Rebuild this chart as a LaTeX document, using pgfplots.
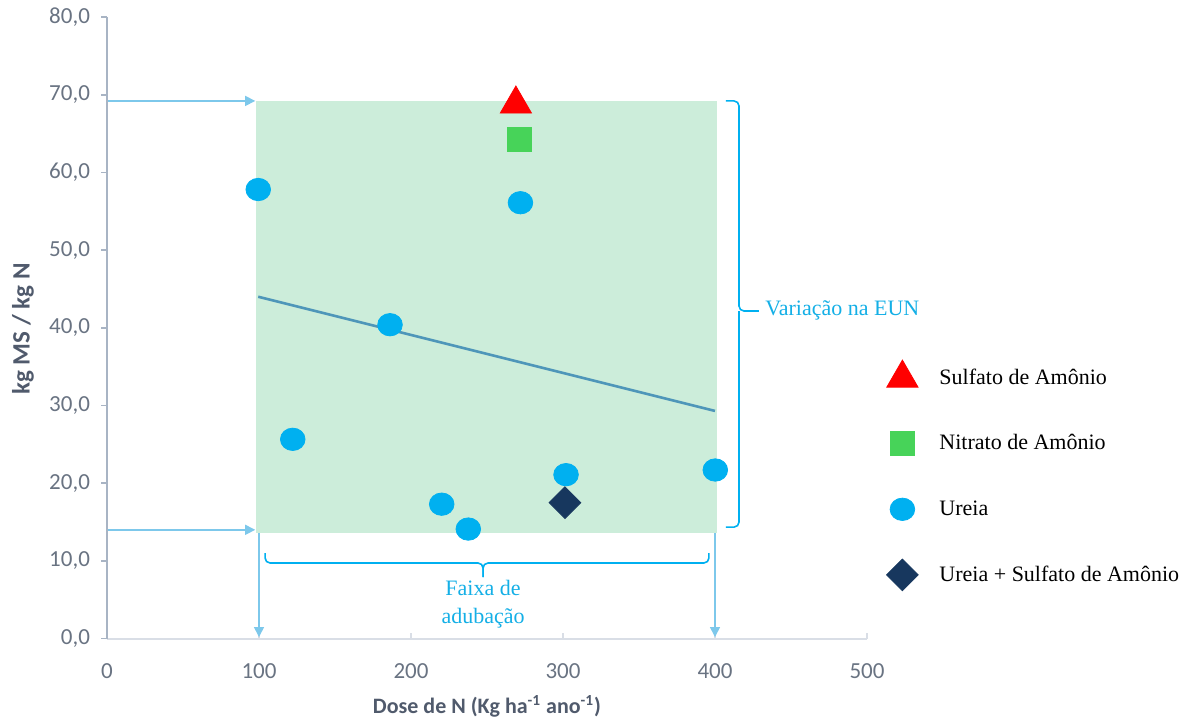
\documentclass[border=0pt]{standalone}
\usepackage{pgfplots}
\pgfplotsset{compat=1.18}
\usepackage{fontspec}
\setmainfont{Liberation Serif}
\newfontfamily\carlito{Carlito}
\usetikzlibrary{arrows.meta}
\definecolor{shade}{RGB}{204,237,218}
\definecolor{ucyan}{RGB}{0,176,240}
\definecolor{sred}{RGB}{255,0,0}
\definecolor{ngreen}{RGB}{71,211,89}
\definecolor{navy}{RGB}{23,55,94}
\definecolor{trend}{RGB}{78,150,185}
\definecolor{arr}{RGB}{125,200,235}
\definecolor{yax}{RGB}{168,180,196}
\definecolor{xax}{RGB}{217,222,230}
\definecolor{ticklab}{RGB}{105,115,130}
\definecolor{labcol}{RGB}{80,90,108}
\definecolor{annot}{RGB}{20,175,230}
\pgfplotsset{
  legimg/.style={legend image code/.code={%
    \draw[#1] plot coordinates {(0.3cm,0cm)};
    \path[draw=none, fill=none] (0cm,-16.4pt) rectangle (0.6cm,16.4pt);}}
}
\begin{document}
\begin{tikzpicture}
\useasboundingbox (0,0) rectangle (594.5pt,360pt);
\begin{axis}[
  at={(53.5pt,40.7pt)}, anchor=south west,
  scale only axis, width=380pt, height=310.8pt,
  xmin=0, xmax=500, ymin=0, ymax=80,
  clip=false,
  axis lines*=left,
  x axis line style={draw=xax, line width=1pt},
  y axis line style={draw=yax, line width=1pt},
  xtick={0,100,...,500}, ytick={0,10,...,80},
  tick align=outside,
  major tick length=3pt,
  ytick style={draw=yax, line width=0.8pt},
  xtick style={draw=xax, line width=0.8pt, yshift=2.6pt},
  /pgf/number format/assume math mode=true,
  ticklabel style={font=\carlito\fontsize{11.5}{13}\selectfont, text=ticklab},
  yticklabel style={/pgf/number format/.cd, fixed, fixed zerofill, precision=1, use comma, /tikz/.cd, xshift=-2pt},
  xticklabel style={/pgf/number format/.cd, fixed, precision=0, /tikz/.cd, yshift=-6pt},
  xlabel={Dose de N (Kg ha\textsuperscript{-1} ano\textsuperscript{-1})},
  ylabel={kg MS / kg N},
  label style={font=\carlito\bfseries\fontsize{11}{13}\selectfont, text=labcol},
  xlabel style={at={(rel axis cs:0.5,0)}, anchor=center, yshift=-34pt},
  ylabel style={at={(rel axis cs:0,0.498)}, anchor=center, yshift=42pt, font=\carlito\bfseries\fontsize{12.5}{14}\selectfont},
  legend style={at={(axis cs:511.8,37.8)}, anchor=north west, draw=none, fill=none,
    inner sep=0pt, row sep=0pt, font=\fontsize{11}{13}\selectfont, cells={anchor=west},
    /tikz/every odd column/.style={column sep=8pt}},
]
% shaded region
\addplot[fill=shade, draw=none, forget plot] coordinates {(98,13.55) (401,13.55) (401,69.2) (98,69.2)} -- cycle;
% trend line
\addplot[trend, line width=1.3pt, forget plot] coordinates {(99.5,44.0) (400,29.3)};
% arrows and braces
\draw[arr, line width=0.7pt, -{Triangle[length=5pt,width=5pt]}] (axis cs:0.5,69.2) -- (axis cs:97.5,69.2);
\draw[arr, line width=0.7pt, -{Triangle[length=5pt,width=5pt]}] (axis cs:0.5,14.0) -- (axis cs:97.5,14.0);
\draw[arr, line width=0.7pt, -{Triangle[length=5pt,width=5pt]}] (axis cs:100,13.55) -- (axis cs:100,0.2);
\draw[arr, line width=0.7pt, -{Triangle[length=5pt,width=5pt]}] (axis cs:400,13.55) -- (axis cs:400,0.2);
\draw[ucyan, line width=0.8pt, rounded corners=2.5pt] (axis cs:104,11.0) |- (axis cs:247.4,9.73) -- (axis cs:247.4,7.9);
\draw[ucyan, line width=0.8pt, rounded corners=2.5pt] (axis cs:396,11.0) |- (axis cs:247.4,9.73) -- (axis cs:247.4,7.9);
\node[annot, align=center, font=\fontsize{11}{14}\selectfont] at (axis cs:247.4,4.45) {Faixa de\\adubação};
\draw[ucyan, line width=0.8pt, rounded corners=2.5pt] (axis cs:407.2,69.2) -| (axis cs:415.8,42.16) -- (axis cs:428.9,42.16);
\draw[ucyan, line width=0.8pt, rounded corners=2.5pt] (axis cs:407.2,14.35) -| (axis cs:415.8,42.16);
\node[annot, anchor=west, font=\fontsize{11}{14}\selectfont, inner sep=0pt] at (axis cs:432.9,42.3) {Variação na EUN};
% data
\addplot[only marks, mark=triangle*, mark size=9pt, color=sred, legimg] coordinates {(269,68.8)};
\addlegendentry{Sulfato de Amônio}
\addplot[only marks, mark=square*, mark size=6pt, color=ngreen, legimg] coordinates {(271.5,64.2)};
\addlegendentry{Nitrato de Amônio}
\addplot[only marks, mark=*, mark size=5.6pt, mark options={xscale=1.1}, color=ucyan, legimg] coordinates {
(99.5,57.8) (272,56.1) (186.2,40.4) (122.2,25.65) (220.2,17.3) (237.7,14.1) (302,21.1) (400.2,21.7)};
\addlegendentry{Ureia}
\addplot[only marks, mark=square*, mark size=5.6pt, mark options={rotate=45}, color=navy, legimg] coordinates {(301.3,17.5)};
\addlegendentry{Ureia + Sulfato de Amônio}
\end{axis}
\end{tikzpicture}
\end{document}
